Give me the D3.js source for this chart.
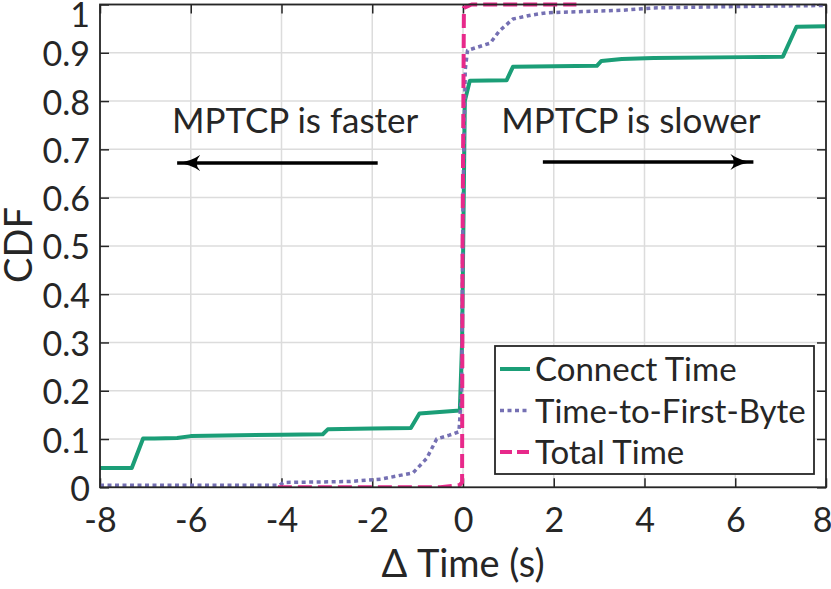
<!DOCTYPE html>
<html>
<head>
<meta charset="utf-8">
<script src="https://cdn.jsdelivr.net/npm/d3@7"></script>
<style>
  body { margin: 0; background: #fff; }
  text { font-family: Lato, "DejaVu Sans", sans-serif; fill: #262626; }
</style>
</head>
<body>
<script>
// series
var connectX = [-8, -7.3, -7.05, -6.8, -6.3, -6, -4, -3.09, -2.98, -2, -1.15, -0.96, -0.07, -0.02, 0.04, 0.15, 0.96, 1.1, 2.95, 3.05, 3.5, 4.2, 6.2, 7.05, 7.35, 8];
var connectY = [0.04, 0.04, 0.101, 0.101, 0.102, 0.106, 0.109, 0.11, 0.12, 0.122, 0.123, 0.153, 0.159, 0.3, 0.8, 0.842, 0.843, 0.871, 0.873, 0.883, 0.887, 0.889, 0.891, 0.892, 0.954, 0.955];

var ttfbX = [-8, -4.05, -3.95, -2.5, -1.8, -1.1, -0.8, -0.58, -0.3, -0.09, -0.03, 0.0, 0.05, 0.1, 0.6, 0.8, 1.1, 1.5, 1.85, 3.5, 4.2, 6.2, 8];
var ttfbY = [0.004, 0.004, 0.01, 0.012, 0.017, 0.03, 0.06, 0.1, 0.108, 0.115, 0.2, 0.6, 0.865, 0.905, 0.92, 0.945, 0.97, 0.978, 0.983, 0.988, 0.993, 0.996, 0.998];

var totalX = [-4.08, -2, -0.5, -0.07, -0.02, -0.01, 0.02, 0.19, 2.5];
var totalY = [0, 0, 0.0, 0.005, 0.01, 0.5, 0.993, 1.0, 1.0];

var seriesNames = ["Connect Time", "Time-to-First-Byte", "Total Time"];
var seriesColors = ["#1b9e77", "#7570b3", "#e7298a"];
var seriesDash = [null, "4,3.5", "14,6"];

var xTicks = [-8, -6, -4, -2, 0, 2, 4, 6, 8];
var yTicks = [0, 0.1, 0.2, 0.3, 0.4, 0.5, 0.6, 0.7, 0.8, 0.9, 1];

var width = 831;
var height = 589;
// note: "top" is taken by window.top, so the plot edges get their own names
var plotLeft = 100, plotRight = 826, plotTop = 4.5, plotBottom = 487.3;
var axisColor = "#262626";

var svg = d3.select("body").append("svg")
.attr("width", width)
.attr("height", height)

var x = d3.scaleLinear()
.domain([-8, 8])
.range([plotLeft, plotRight]);

var y = d3.scaleLinear()
.domain([0, 1])
.range([plotBottom, plotTop]);

// grid
svg.append("g")
.selectAll("line")
.data(xTicks)
.enter().append("line")
.attr("x1", function(d){ return x(d) })
.attr("x2", function(d){ return x(d) })
.attr("y1", plotTop)
.attr("y2", plotBottom)
.attr("stroke", "#dcdcdc")
.attr("stroke-width", 1.5);

svg.append("g")
.selectAll("line")
.data(yTicks)
.enter().append("line")
.attr("x1", plotLeft)
.attr("x2", plotRight)
.attr("y1", function(d){ return y(d) })
.attr("y2", function(d){ return y(d) })
.attr("stroke", "#dcdcdc")
.attr("stroke-width", 1.5);

svg.append("defs").append("clipPath")
.attr("id", "plotclip")
.append("rect")
.attr("x", plotLeft)
.attr("y", plotTop - 3)
.attr("width", plotRight - plotLeft)
.attr("height", plotBottom - plotTop + 3);

var line = d3.line()
.x(function(d){ return x(d[0]) })
.y(function(d){ return y(d[1]) });

var series = [
  d3.zip(connectX, connectY),
  d3.zip(ttfbX, ttfbY),
  d3.zip(totalX, totalY)
];

// axes, ticks pointing inward on all four sides
function styleAxis(g) {
  g.select(".domain").remove();
  g.selectAll(".tick line").attr("stroke", axisColor).attr("stroke-width", 1.5);
  g.selectAll(".tick text").style("font-size", "34px").attr("fill", axisColor);
}

var xAxisBottom = svg.append("g")
.attr("transform", "translate(0," + plotBottom + ")")
.call(d3.axisBottom(x).tickValues(xTicks).tickSizeInner(-9).tickPadding(21).tickFormat(function(d){ return String(d) }))
.call(styleAxis);

// last label sits just inside the window, as in the picture
xAxisBottom.selectAll(".tick text")
.attr("dx", function(d){ return d == 8 ? -4 : 0 });

var yAxisLeft = svg.append("g")
.attr("transform", "translate(" + plotLeft + ",0)")
.call(d3.axisLeft(y).tickValues(yTicks).tickSizeInner(-9).tickPadding(10).tickFormat(function(d){ return d == 0 || d == 1 ? String(d) : d3.format(".1f")(d) }))
.call(styleAxis);

// labels sit a bit under their ticks; the top one is pushed down to stay in the window
yAxisLeft.selectAll(".tick text")
.attr("dy", function(d){ return d == 1 ? 21.5 : 13 });

svg.append("g")
.attr("transform", "translate(0," + plotTop + ")")
.call(d3.axisTop(x).tickValues(xTicks).tickSizeInner(-9).tickFormat(""))
.call(styleAxis);

svg.append("g")
.attr("transform", "translate(" + plotRight + ",0)")
.call(d3.axisRight(y).tickValues(yTicks).tickSizeInner(-9).tickFormat(""))
.call(styleAxis);

// curves
svg.append("g")
.attr("clip-path", "url(#plotclip)")
.selectAll("path")
.data(series)
.enter().append("path")
.attr("d", line)
.attr("fill", "none")
.attr("stroke", function(d, i){ return seriesColors[i] })
.attr("stroke-width", function(d, i){ return i == 1 ? 3.5 : 4 })
.attr("stroke-dasharray", function(d, i){ return seriesDash[i] })
.attr("stroke-linejoin", "round");

// frame
svg.append("rect")
.attr("x", plotLeft)
.attr("y", plotTop)
.attr("width", plotRight - plotLeft)
.attr("height", plotBottom - plotTop)
.attr("fill", "none")
.attr("stroke", axisColor)
.attr("stroke-width", 1.8);

// annotations
svg.append("defs").append("marker")
.attr("id", "head")
.attr("viewBox", "0 0 24 18")
.attr("refX", 23)
.attr("refY", 9)
.attr("markerWidth", 24)
.attr("markerHeight", 18)
.attr("markerUnits", "userSpaceOnUse")
.attr("orient", "auto")
.append("path")
.attr("d", "M0,1 Q10,8 23,9 Q10,10 0,17 Q7,9 0,1 Z")
.attr("fill", "#000");

svg.append("text")
.attr("x", x(-3.7))
.attr("y", 133)
.attr("text-anchor", "middle")
.style("font-size", "35px")
.attr("fill", "#000")
.text("MPTCP is faster");

svg.append("text")
.attr("x", x(3.7))
.attr("y", 133)
.attr("text-anchor", "middle")
.style("font-size", "35px")
.attr("fill", "#000")
.text("MPTCP is slower");

svg.append("line")
.attr("x1", x(-1.88)).attr("x2", x(-6.3))
.attr("y1", 163).attr("y2", 163)
.attr("stroke", "#000").attr("stroke-width", 3.5)
.attr("marker-end", "url(#head)");

svg.append("line")
.attr("x1", x(1.76)).attr("x2", x(6.4))
.attr("y1", 162).attr("y2", 162)
.attr("stroke", "#000").attr("stroke-width", 3.5)
.attr("marker-end", "url(#head)");

// axis labels
svg.append("text")
.attr("x", x(0))
.attr("y", 577)
.attr("text-anchor", "middle")
.style("font-size", "38px")
.text("\u0394 Time (s)");

svg.append("text")
.attr("transform", "translate(32,245) rotate(-90)")
.attr("text-anchor", "middle")
.style("font-size", "38px")
.text("CDF");

// legend
var legend = svg.append("g");
legend.append("rect")
.attr("x", 495)
.attr("y", 346)
.attr("width", 319)
.attr("height", 128)
.attr("fill", "#fff")
.attr("stroke", axisColor)
.attr("stroke-width", 1.8);

var item = legend.selectAll("g.item")
.data(seriesNames)
.enter().append("g")
.attr("class", "item")
.attr("transform", function(d, i){ return "translate(0," + (369 + i * 41.5) + ")" });

item.append("line")
.attr("x1", 500).attr("x2", 530)
.attr("y1", 0).attr("y2", 0)
.attr("stroke", function(d, i){ return seriesColors[i] })
.attr("stroke-width", function(d, i){ return i == 1 ? 3.5 : 4 })
.attr("stroke-dasharray", function(d, i){ return seriesDash[i] == null ? null : (i == 1 ? "4,3.5" : "12,5") });

item.append("text")
.attr("x", 535)
.attr("y", 12)
.style("font-size", "33px")
.attr("fill", "#000")
.text(function(d){ return d });
</script>
</body>
</html>
